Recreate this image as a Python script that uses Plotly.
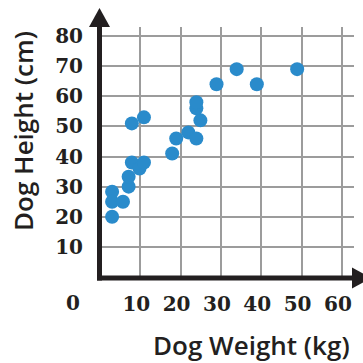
import plotly.graph_objects as go

# Dog weight (kg) vs dog height (cm)
weight_kg = [3, 3, 3, 5.7, 7.1, 7.1, 7.9, 9.8, 10.9, 7.9, 10.9,
             17.9, 18.9, 21.9, 23.9, 24.9, 23.9, 23.9, 28.9, 33.9, 38.9, 48.9]
height_cm = [20, 28.3, 25, 25, 30, 33.3, 38, 36, 38, 51, 53,
             41, 46, 48, 46, 52, 56, 58, 64, 69, 64, 69]

x_ticks = [10, 20, 30, 40, 50, 60]
y_ticks = [10, 20, 30, 40, 50, 60, 70, 80]

W = H = 363
L, R, T, B = 100, 9, 27, 86          # plot-area margins in px
x_range = [0, 63]
y_range = [0, 83]

AXIS = "#231f20"
GRID = "#9c9c9c"
DOT = "#2a8bcb"
TICK_FONT = dict(family="DejaVu Serif", size=20, color=AXIS, weight="bold")
TITLE_FONT = dict(family="Open Sans", size=26, color=AXIS, weight=600)


def px_x(p):
    return (p - L) / (W - L - R)


def px_y(p):
    return (H - B - p) / (H - T - B)


fig = go.Figure(go.Scatter(
    x=weight_kg, y=height_cm, mode="markers",
    marker=dict(color=DOT, size=14, line=dict(width=0)),
    cliponaxis=False,
))

axis_common = dict(showgrid=True, gridcolor=GRID, gridwidth=2, zeroline=False,
                   showline=False, ticks="", tickfont=TICK_FONT, fixedrange=True)

fig.update_xaxes(range=x_range, tickvals=x_ticks, ticktext=[str(v) for v in x_ticks],
                 ticklabelshift=-4, ticklabelstandoff=13, **axis_common)
fig.update_yaxes(range=y_range, tickvals=y_ticks, ticktext=[str(v) for v in y_ticks],
                 ticklabelstandoff=16, **axis_common)

ax_x = px_x(99.5)
ax_y = px_y(278)
shapes = [
    # vertical axis with arrowhead
    dict(type="line", xref="paper", yref="paper", x0=ax_x, x1=ax_x,
         y0=ax_y - 0.01, y1=px_y(26), line=dict(color=AXIS, width=5)),
    dict(type="path", xref="paper", yref="paper",
         path=f"M {px_x(89)} {px_y(27)} L {px_x(99.5)} {px_y(8)} L {px_x(110)} {px_y(27)} Z",
         fillcolor=AXIS, line=dict(width=0)),
    # horizontal axis with arrowhead
    dict(type="line", xref="paper", yref="paper", x0=px_x(97), x1=px_x(354),
         y0=ax_y, y1=ax_y, line=dict(color=AXIS, width=5)),
    dict(type="path", xref="paper", yref="paper",
         path=f"M {px_x(352)} {px_y(267.5)} L {px_x(371)} {px_y(278)} L {px_x(352)} {px_y(288.5)} Z",
         fillcolor=AXIS, line=dict(width=0)),
]

annotations = [
    dict(text="0", xref="paper", yref="paper", x=px_x(73), y=px_y(303),
         showarrow=False, font=TICK_FONT, xanchor="center", yanchor="middle"),
    dict(text="Dog Weight (kg)", xref="paper", yref="paper", x=px_x(251), y=px_y(345),
         showarrow=False, font=TITLE_FONT, xanchor="center", yanchor="middle"),
    dict(text="Dog Height (cm)", xref="paper", yref="paper", x=px_x(23), y=px_y(131),
         showarrow=False, font=TITLE_FONT, textangle=-90,
         xanchor="center", yanchor="middle"),
]

fig.update_layout(
    width=W, height=H,
    margin=dict(l=L, r=R, t=T, b=B),
    paper_bgcolor="white", plot_bgcolor="white",
    showlegend=False, shapes=shapes, annotations=annotations,
)

fig.write_html("out.html", config={"displayModeBar": False})
